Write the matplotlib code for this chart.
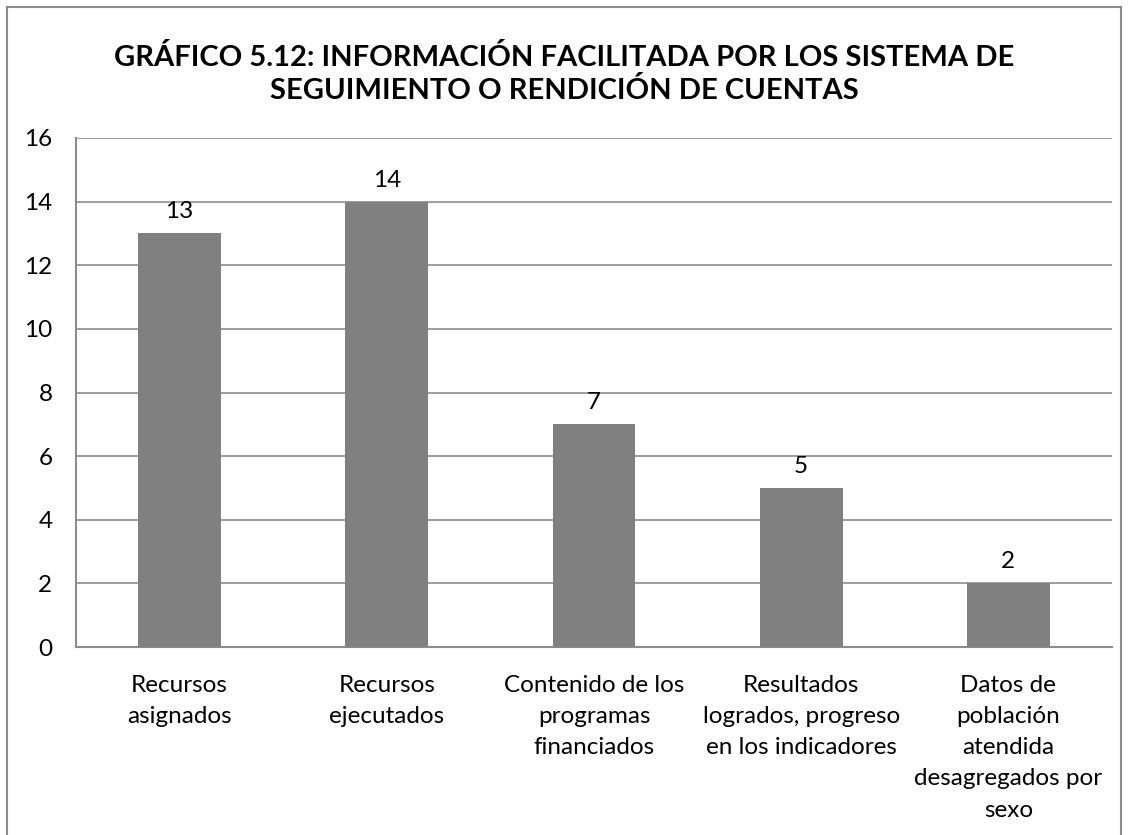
import matplotlib.pyplot as plt
from matplotlib.patches import Rectangle

categories = [
    'Recursos\nasignados',
    'Recursos\nejecutados',
    'Contenido de los\nprogramas\nfinanciados',
    'Resultados\nlogrados, progreso\nen los indicadores',
    'Datos de\npoblación\natendida\ndesagregados por\nsexo',
]
values = [13, 14, 7, 5, 2]
yticks = [0, 2, 4, 6, 8, 10, 12, 14, 16]
title = 'GRÁFICO 5.12: INFORMACIÓN FACILITADA POR LOS SISTEMA DE\nSEGUIMIENTO O RENDICIÓN DE CUENTAS'

plt.rcParams['font.family'] = ['Lato', 'DejaVu Sans']

fig = plt.figure(figsize=(11.28, 8.35), dpi=100)
ax = fig.add_axes([76 / 1128, 1 - 647 / 835, (1112 - 76) / 1128, (647 - 138) / 835])

x = range(len(values))
bars = ax.bar(x, values, width=0.4, color='#808080', zorder=3)
for b, v in zip(bars, values):
    ax.annotate(str(v), (b.get_x() + b.get_width() / 2, v), xytext=(0, 8),
                textcoords='offset points', ha='center', va='bottom', fontsize=17.5)

ax.set_xlim(-0.5, len(values) - 0.5)
ax.set_ylim(0, 16)
ax.set_yticks(yticks)
ax.set_xticks(list(x))
ax.set_xticklabels(categories, fontsize=17.5, linespacing=1.6, va='top')
ax.tick_params(axis='y', length=0, pad=17, labelsize=17.5)
ax.tick_params(axis='x', length=0, pad=20)
ax.grid(axis='y', color='#8c8c8c', linewidth=1.2, zorder=0)
for s in ['top', 'right']:
    ax.spines[s].set_visible(False)
for s in ['left', 'bottom']:
    ax.spines[s].set_color('#8c8c8c')
    ax.spines[s].set_linewidth(1.5)

fig.text(0.5, 1 - 74 / 835, title, ha='center', va='center', fontsize=21,
         fontweight='bold', linespacing=1.25)

fig.patches.append(Rectangle((7 / 1128, -0.01), (1121 - 7) / 1128, 1 - 7 / 835 + 0.01,
                             transform=fig.transFigure, fill=False,
                             edgecolor='#8c8c8c', linewidth=1.5))

fig.savefig('out.png', dpi=100)
